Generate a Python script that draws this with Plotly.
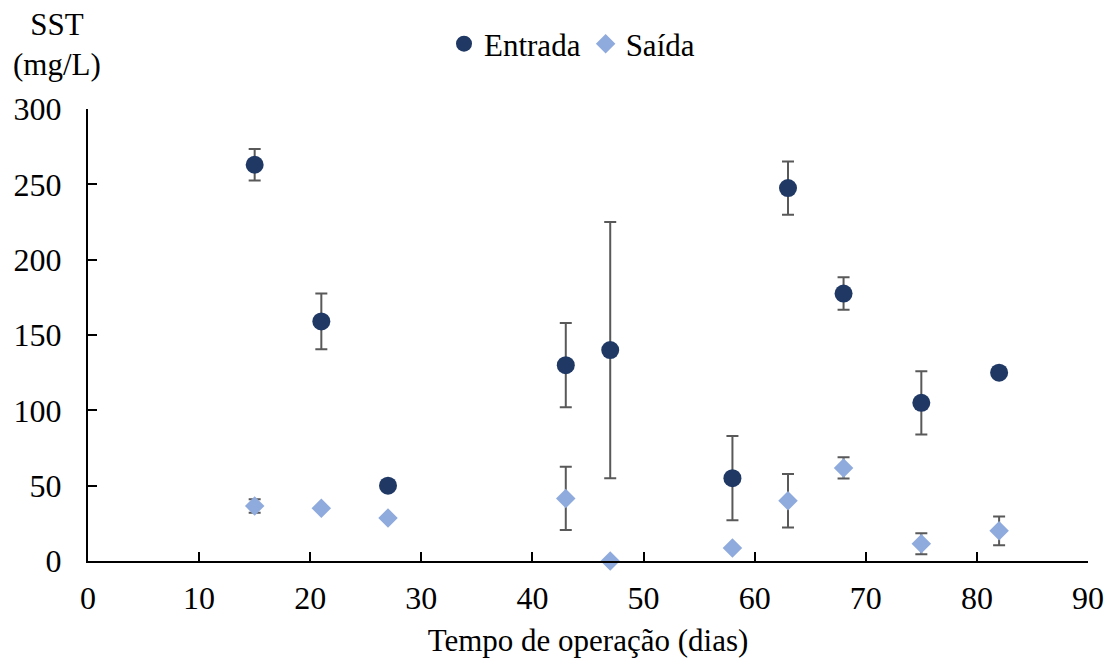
import plotly.graph_objects as go

dias = [15, 21, 27, 43, 47, 58, 63, 68, 75, 82]
entrada = [263, 159, 50, 130, 140, 55, 247.5, 177.5, 105, 125]
entrada_err = [10.5, 18.5, None, 28, 85, 28, 17.7, 10.8, 21, None]
saida = [36.5, 35, 28.5, 41.5, 0, 8.6, 40, 61.8, 11.5, 20]
saida_err = [4.5, None, None, 21, None, None, 17.8, 7, 7, 9.5]
x_ticks = [0, 10, 20, 30, 40, 50, 60, 70, 80, 90]
y_ticks = [0, 50, 100, 150, 200, 250, 300]

FONT = "Liberation Serif"
ERRC = "#595959"
TF = dict(family=FONT, size=31, color="black")
TICKF = dict(family=FONT, size=32, color="black")

fig = go.Figure()
fig.add_trace(go.Scatter(
    x=dias, y=entrada, mode="markers", name="Entrada",
    marker=dict(symbol="circle", size=18, color="#1F3864"),
    error_y=dict(type="data", array=entrada_err, visible=True,
                 color=ERRC, thickness=2, width=6),
    cliponaxis=False,
))
fig.add_trace(go.Scatter(
    x=dias, y=saida, mode="markers", name="Saída",
    marker=dict(symbol="diamond", size=15, color="#8FAADC"),
    error_y=dict(type="data", array=saida_err, visible=True,
                 color=ERRC, thickness=2, width=6),
    cliponaxis=False,
))

fig.update_layout(
    width=1107, height=659,
    margin=dict(l=88, r=19, t=109, b=98, autoexpand=False),
    paper_bgcolor="white", plot_bgcolor="white",
    font=TF,
    showlegend=True,
    legend=dict(orientation="h", x=0.484, xanchor="center", y=1.1437,
                yanchor="middle", font=TF,
                itemsizing="trace", itemwidth=30, tracegroupgap=0,
                bgcolor="rgba(0,0,0,0)"),
    xaxis=dict(range=[0, 90], tickvals=x_ticks, ticks="inside", ticklen=9,
               tickwidth=2, tickcolor="black", showline=True, linecolor="black",
               linewidth=2, showgrid=False, zeroline=False, automargin=False,
               ticklabelstandoff=8, tickfont=TICKF,
               title=dict(text="Tempo de operação (dias)", standoff=14, font=TF)),
    yaxis=dict(range=[0, 300], tickvals=y_ticks, ticks="inside", ticklen=9,
               tickwidth=2, tickcolor="black", showline=True, linecolor="black",
               linewidth=2, showgrid=False, zeroline=False, automargin=False,
               ticklabelstandoff=18, tickfont=TICKF),
    annotations=[dict(text="SST<br>(mg/L)", xref="paper", yref="paper",
                      x=-0.031, y=1.1416, xanchor="center", yanchor="middle",
                      showarrow=False, font=TF, align="center")],
)

fig.write_html("out.html", config={"displayModeBar": False},
               post_script="document.body.style.margin='0px'")
